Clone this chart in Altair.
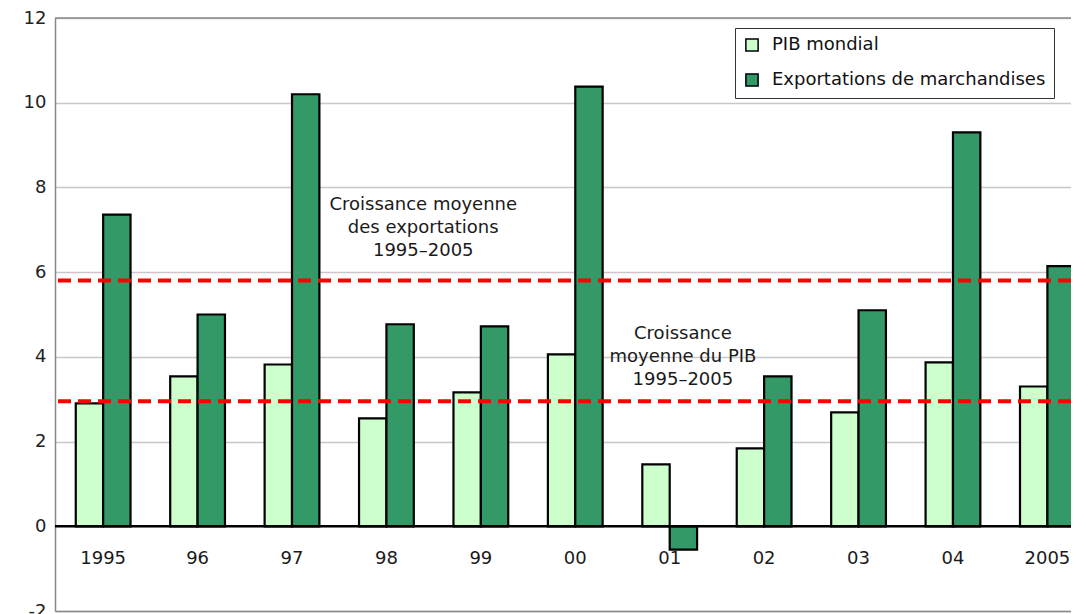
import altair as alt
import pandas as pd

# ---- data ----
years = ["1995", "96", "97", "98", "99", "00", "01", "02", "03", "04", "2005"]
pib = [2.90, 3.54, 3.82, 2.55, 3.16, 4.06, 1.46, 1.84, 2.69, 3.87, 3.30]
exports = [7.36, 5.00, 10.20, 4.77, 4.72, 10.38, -0.55, 3.54, 5.10, 9.30, 6.14]
series_names = ["PIB mondial", "Exportations de marchandises"]
series_colors = ["#ccffcc", "#339966"]
avg_values = [5.80, 2.95]
y_ticks = [-2, 0, 2, 4, 6, 8, 10, 12]
ann_texts = ["Croissance moyenne\ndes exportations\n1995–2005",
             "Croissance\nmoyenne du PIB\n1995–2005"]
ann_x = [3.39, 6.14]
ann_y = [7.58, 4.55]
label_y = -0.78

FONT = "DejaVu Sans"
BAR_W = 0.29

rows = []
for i, yr in enumerate(years):
    rows.append({"idx": i, "year": yr, "series": series_names[0], "value": pib[i]})
    rows.append({"idx": i, "year": yr, "series": series_names[1], "value": exports[i]})
bars_df = pd.DataFrame(rows)
labels_df = pd.DataFrame({"idx": list(range(len(years))), "year": years, "ly": [label_y] * len(years)})
avg_df = pd.DataFrame({"v": avg_values})
ann_df = pd.DataFrame({"x": ann_x, "y": ann_y, "t": ann_texts})

xscale = alt.Scale(domain=[-0.51, 10.25], nice=False, zero=False)
yscale = alt.Scale(domain=[-2, 12], nice=False, zero=False)

xaxis = alt.Axis(title=None, labels=False, ticks=False, grid=False,
                 domainColor="#888888", domainWidth=1.5)
yaxis = alt.Axis(title=None, values=y_ticks, ticks=False, labelPadding=9,
                 labelExpr="replace(datum.label, '\u2212', '-')",
                 labelFont=FONT, labelFontSize=18, labelColor="#222222",
                 grid=True, gridColor="#c8c8c8", gridWidth=1.5,
                 domainColor="#888888", domainWidth=1.5)

bars = alt.Chart(bars_df).transform_calculate(
    x0=f"datum.series == '{series_names[0]}' ? datum.idx - {BAR_W} : datum.idx",
    x1=f"datum.series == '{series_names[0]}' ? datum.idx : datum.idx + {BAR_W}",
).mark_bar(stroke="black", strokeWidth=2.2).encode(
    x=alt.X("x0:Q", scale=xscale, axis=xaxis),
    x2="x1:Q",
    y=alt.Y("value:Q", scale=yscale, axis=yaxis),
    y2=alt.datum(0),
    color=alt.Color("series:N",
                    scale=alt.Scale(domain=series_names, range=series_colors),
                    legend=alt.Legend(title=None, orient="none", legendX=680, legendY=10,
                                      fillColor="white", strokeColor="#333333",
                                      padding=8, symbolType="square", symbolSize=150,
                                      symbolStrokeColor="black", symbolStrokeWidth=1.5,
                                      labelFont=FONT, labelFontSize=18, labelColor="#111111",
                                      rowPadding=15, labelOffset=11, labelLimit=500)),
)

top_rule = alt.Chart().mark_rule(color="#888888", strokeWidth=1.5).encode(
    y=alt.Y(datum=12, scale=yscale, axis=yaxis))
zero_rule = alt.Chart().mark_rule(color="black", strokeWidth=2.5).encode(
    y=alt.Y(datum=0, scale=yscale, axis=yaxis))

avg_rules = alt.Chart(avg_df).mark_rule(color="#ff0000", strokeWidth=4, strokeDash=[13, 7]).encode(
    y=alt.Y("v:Q", scale=yscale, axis=yaxis)
)

ann = alt.Chart(ann_df).mark_text(font=FONT, fontSize=18, color="#1a1a1a", lineBreak="\n",
                                  lineHeight=23, align="center", baseline="middle").encode(
    x=alt.X("x:Q", scale=xscale, axis=xaxis),
    y=alt.Y("y:Q", scale=yscale, axis=yaxis),
    text="t:N",
)

xlabels = alt.Chart(labels_df).mark_text(font=FONT, fontSize=18, color="#1a1a1a",
                                         align="center", baseline="middle").encode(
    x=alt.X("idx:Q", scale=xscale, axis=xaxis),
    y=alt.Y("ly:Q", scale=yscale, axis=yaxis),
    text="year:N",
)

chart = alt.layer(bars, ann, zero_rule, top_rule, avg_rules, xlabels).properties(
    width=1016, height=593,
    autosize=alt.AutoSizeParams(type="none"),
    padding={"left": 47, "top": 10, "right": 0, "bottom": 3},
).configure_view(stroke=None).configure(background="white")

chart.save("out.html", embed_options={"renderer": "svg", "actions": False})
